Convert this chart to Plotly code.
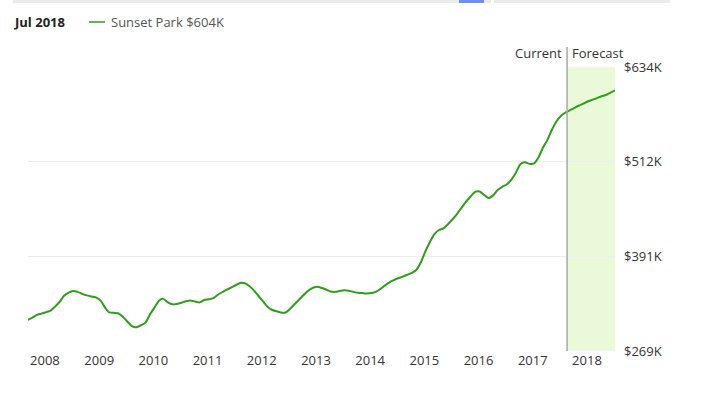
import plotly.graph_objects as go
import pandas as pd

# Monthly median home value (thousands USD), Sep 2007 .. Jul 2018
start_month = "2007-09-01"
values_k = [
    309, 312, 315.5, 317, 319, 321, 326, 332, 340, 344, 346, 345,
    342.5, 340.5, 339, 338, 334, 325, 318.5, 318, 317.5, 313, 307, 301,
    299.5, 302, 305.5, 316, 325, 334, 336, 331.5, 329, 329.5, 331, 333,
    334, 332.5, 331.5, 334.5, 335.5, 337, 341, 344.5, 347.5, 350.5, 353.5, 356.5,
    356, 352.5, 347, 340, 333, 326, 322, 320, 318.5, 318.5, 323, 329,
    335, 341, 346.5, 350, 351.5, 350, 348, 345.5, 345, 346, 347, 346.5,
    345, 344, 343.5, 343, 343.5, 345, 348.5, 353, 357, 360, 362.5, 364.5,
    367, 369.5, 373.5, 383, 397.5, 409.5, 419, 424.5, 426.5, 432, 438, 445,
    453, 461, 467.5, 473.5, 474, 469.5, 465.5, 469, 476, 480, 483, 489,
    498, 509, 511.5, 509.5, 510, 518, 530, 540, 553, 564, 571, 575.5,
    578.5, 581.5, 584.5, 587, 590, 592, 594, 596.5, 598, 601, 604,
]
dates = pd.date_range(start_month, periods=len(values_k), freq="MS")

current_date = "2017-08-12"
y_ticks = [269, 391, 512, 634]
y_tick_labels = ["$269K", "$391K", "$512K", "$634K"]
year_ticks = [f"{y - 1}-12-24" for y in range(2008, 2019)]
year_labels = [str(y) for y in range(2008, 2019)]

FONT = "Open Sans"
FS = 13
W, H = 706, 397
L, R, T, B = 28, 91, 67, 46
pw, ph = W - L - R, H - T - B


def px(xp):
    return (xp - L) / pw


def py(yp):
    return (H - B - yp) / ph


fig = go.Figure()
fig.add_trace(go.Scatter(
    x=dates, y=values_k, mode="lines",
    line=dict(color="#2f9e1a", width=2, shape="spline", smoothing=0.6),
    hoverinfo="skip", showlegend=False,
))

# forecast shading and current line
fig.add_shape(type="rect", xref="x", yref="y", x0=current_date, x1=dates[-1],
              y0=y_ticks[0], y1=y_ticks[-1], fillcolor="#eafad9", line_width=0, layer="below")
fig.add_shape(type="line", xref="x", yref="paper", x0=current_date, x1=current_date,
              y0=0, y1=py(47), line=dict(color="#a8a8a8", width=1.5))

# top page bars
fig.add_shape(type="rect", xref="paper", yref="paper", x0=px(13), x1=px(491), y0=py(3), y1=py(0),
              fillcolor="#ebebeb", line_width=0)
fig.add_shape(type="rect", xref="paper", yref="paper", x0=px(494), x1=px(670), y0=py(3), y1=py(0),
              fillcolor="#ebebeb", line_width=0)
fig.add_shape(type="rect", xref="paper", yref="paper", x0=px(459), x1=px(484), y0=py(3), y1=py(0),
              fillcolor="#6d8ff0", line_width=0)

# legend
fig.add_shape(type="line", xref="paper", yref="paper", x0=px(89), x1=px(105), y0=py(22), y1=py(22),
              line=dict(color="#2f9e1a", width=1.5))
fig.add_annotation(xref="paper", yref="paper", x=px(12), y=py(22), xanchor="left", yanchor="middle",
                   text="<b>Jul 2018</b>", showarrow=False, font=dict(family=FONT, size=FS, color="#222"))
fig.add_annotation(xref="paper", yref="paper", x=px(109), y=py(22), xanchor="left", yanchor="middle",
                   text="Sunset Park $604K", showarrow=False, font=dict(family=FONT, size=FS, color="#555"))
fig.add_annotation(xref="x", yref="paper", x=current_date, y=py(53), xanchor="right", yanchor="middle",
                   xshift=-3, text="Current", showarrow=False, font=dict(family=FONT, size=FS, color="#333"))
fig.add_annotation(xref="x", yref="paper", x=current_date, y=py(53), xanchor="left", yanchor="middle",
                   xshift=3, text="Forecast", showarrow=False, font=dict(family=FONT, size=FS, color="#333"))

fig.update_layout(
    width=W, height=H,
    margin=dict(l=L, r=R, t=T, b=B),
    paper_bgcolor="white", plot_bgcolor="white",
    font=dict(family=FONT, size=FS, color="#333"),
    xaxis=dict(range=[dates[0], dates[-1]], tickvals=year_ticks, ticktext=year_labels,
               showgrid=False, zeroline=False, showline=False, ticks="",
               tickfont=dict(family=FONT, size=FS, color="#333"), fixedrange=True),
    yaxis=dict(range=[y_ticks[0], y_ticks[-1]], side="right", tickvals=y_ticks, ticktext=y_tick_labels,
               showgrid=True, gridcolor="#eeeeee", gridwidth=1, zeroline=False, showline=False,
               ticks="", ticklabelstandoff=8,
               tickfont=dict(family=FONT, size=FS, color="#333"), fixedrange=True),
)

fig.write_html("out.html", config={"displayModeBar": False},
               post_script="document.body.style.margin='0';")
